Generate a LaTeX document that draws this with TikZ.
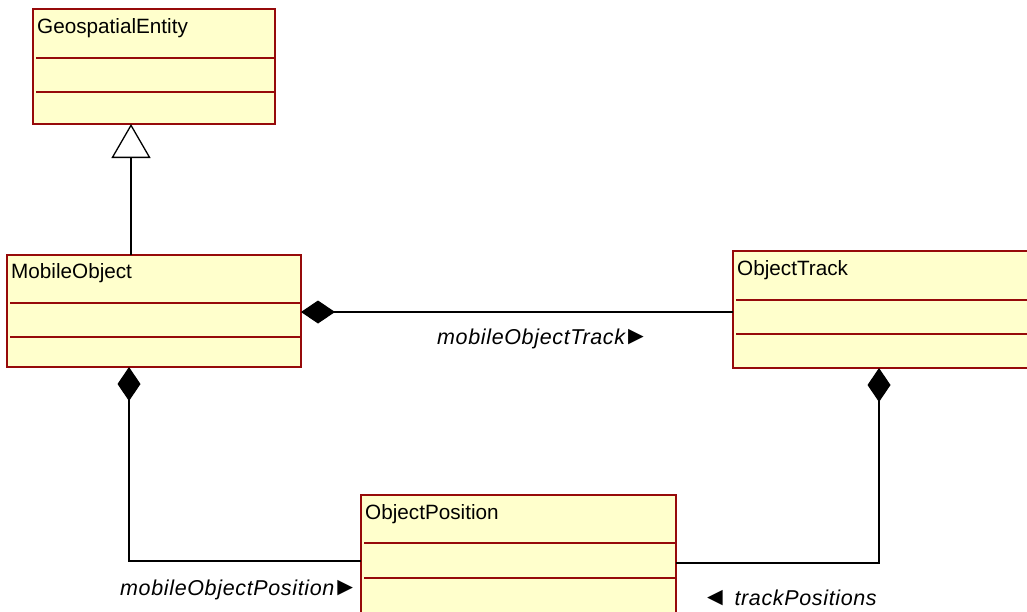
\documentclass[tikz,border=0pt]{standalone}
\usepackage{fontspec}
\setmainfont{Liberation Sans}
\usetikzlibrary{arrows.meta,calc}
\definecolor{boxfill}{RGB}{255,255,204}
\definecolor{boxline}{RGB}{150,10,10}
\newcommand{\rarr}{\kern-2pt{\addfontfeature{LetterSpace=0}\fontsize{26}{24}\selectfont\upshape ►}}
\newcommand{\larr}{{\addfontfeature{LetterSpace=0}\fontsize{26}{24}\selectfont\upshape ◄}}
\begin{document}
\begin{tikzpicture}[x=1pt,y=-1pt,
  classbox/.style={draw=boxline, fill=boxfill, line width=1.2pt, rectangle, inner sep=0pt, outer sep=0pt, anchor=north west},
  cname/.style={anchor=base west, inner sep=0pt, font=\fontsize{20.7}{24}\selectfont},
  sepline/.style={draw=boxline, line width=1.2pt},
  conn/.style={draw=black, line width=1.3pt},
  compo/.style={conn, -{Diamond[length=34pt,width=23pt]}},
  gener/.style={conn, -{Triangle[open,fill=white,length=34pt,width=39pt]}},
  role/.style={anchor=west, inner sep=0pt, font=\fontsize{21.5}{24}\selectfont\itshape\addfontfeature{LetterSpace=3}}]
\useasboundingbox (0,0) rectangle (1027,611);
\clip (0,0) rectangle (1027,611);
\fill[white] (0,0) rectangle (1027,611);

% classes
\node[classbox, minimum width=242pt, minimum height=115pt] (ge) at (33,9) {};
\draw[sepline] ($(ge.north west)+(3,49)$) -- ($(ge.north east)+(-1,49)$);
\draw[sepline] ($(ge.north west)+(3,83)$) -- ($(ge.north east)+(-1,83)$);
\node[cname] (ge-name) at ($(ge.north west)+(4,24)$) {GeospatialEntity};

\node[classbox, minimum width=294pt, minimum height=112pt] (mo) at (7,255) {};
\draw[sepline] ($(mo.north west)+(3,48)$) -- ($(mo.north east)+(-1,48)$);
\draw[sepline] ($(mo.north west)+(3,82)$) -- ($(mo.north east)+(-1,82)$);
\node[cname] (mo-name) at ($(mo.north west)+(4,23)$) {MobileObject};

\node[classbox, minimum width=320pt, minimum height=117pt] (ot) at (733,251) {};
\draw[sepline] ($(ot.north west)+(3,49)$) -- ($(ot.north east)+(-1,49)$);
\draw[sepline] ($(ot.north west)+(3,83)$) -- ($(ot.north east)+(-1,83)$);
\node[cname] (ot-name) at ($(ot.north west)+(4,24)$) {ObjectTrack};

\node[classbox, minimum width=315pt, minimum height=130pt] (op) at (361,495) {};
\draw[sepline] ($(op.north west)+(3,48)$) -- ($(op.north east)+(-1,48)$);
\draw[sepline] ($(op.north west)+(3,83)$) -- ($(op.north east)+(-1,83)$);
\node[cname] (op-name) at ($(op.north west)+(4,24)$) {ObjectPosition};

% helper coordinates
\coordinate (gx) at (131,0);
\coordinate (ty) at (0,312);
\coordinate (ly) at (0,561);
\coordinate (lx) at (129,0);
\coordinate (ry) at (0,563);
\coordinate (rx) at (879,0);

% connectors
\draw[gener] (mo.north -| gx) -- (ge.south -| gx);
\draw[compo] (ot.west |- ty) -- (mo.east |- ty);
\draw[compo] (op.west |- ly) -| (mo.south -| lx);
\draw[compo] (op.east |- ry) -| (ot.south -| rx);

% role labels
\node[role] (l-track) at (437,339) {mobileObjectTrack\rarr};
\node[role] (l-pos) at (120,590) {mobileObjectPosition\rarr};
\node[role] (l-tpos) at (702,598) {\larr\ trackPositions};
\end{tikzpicture}
\end{document}
